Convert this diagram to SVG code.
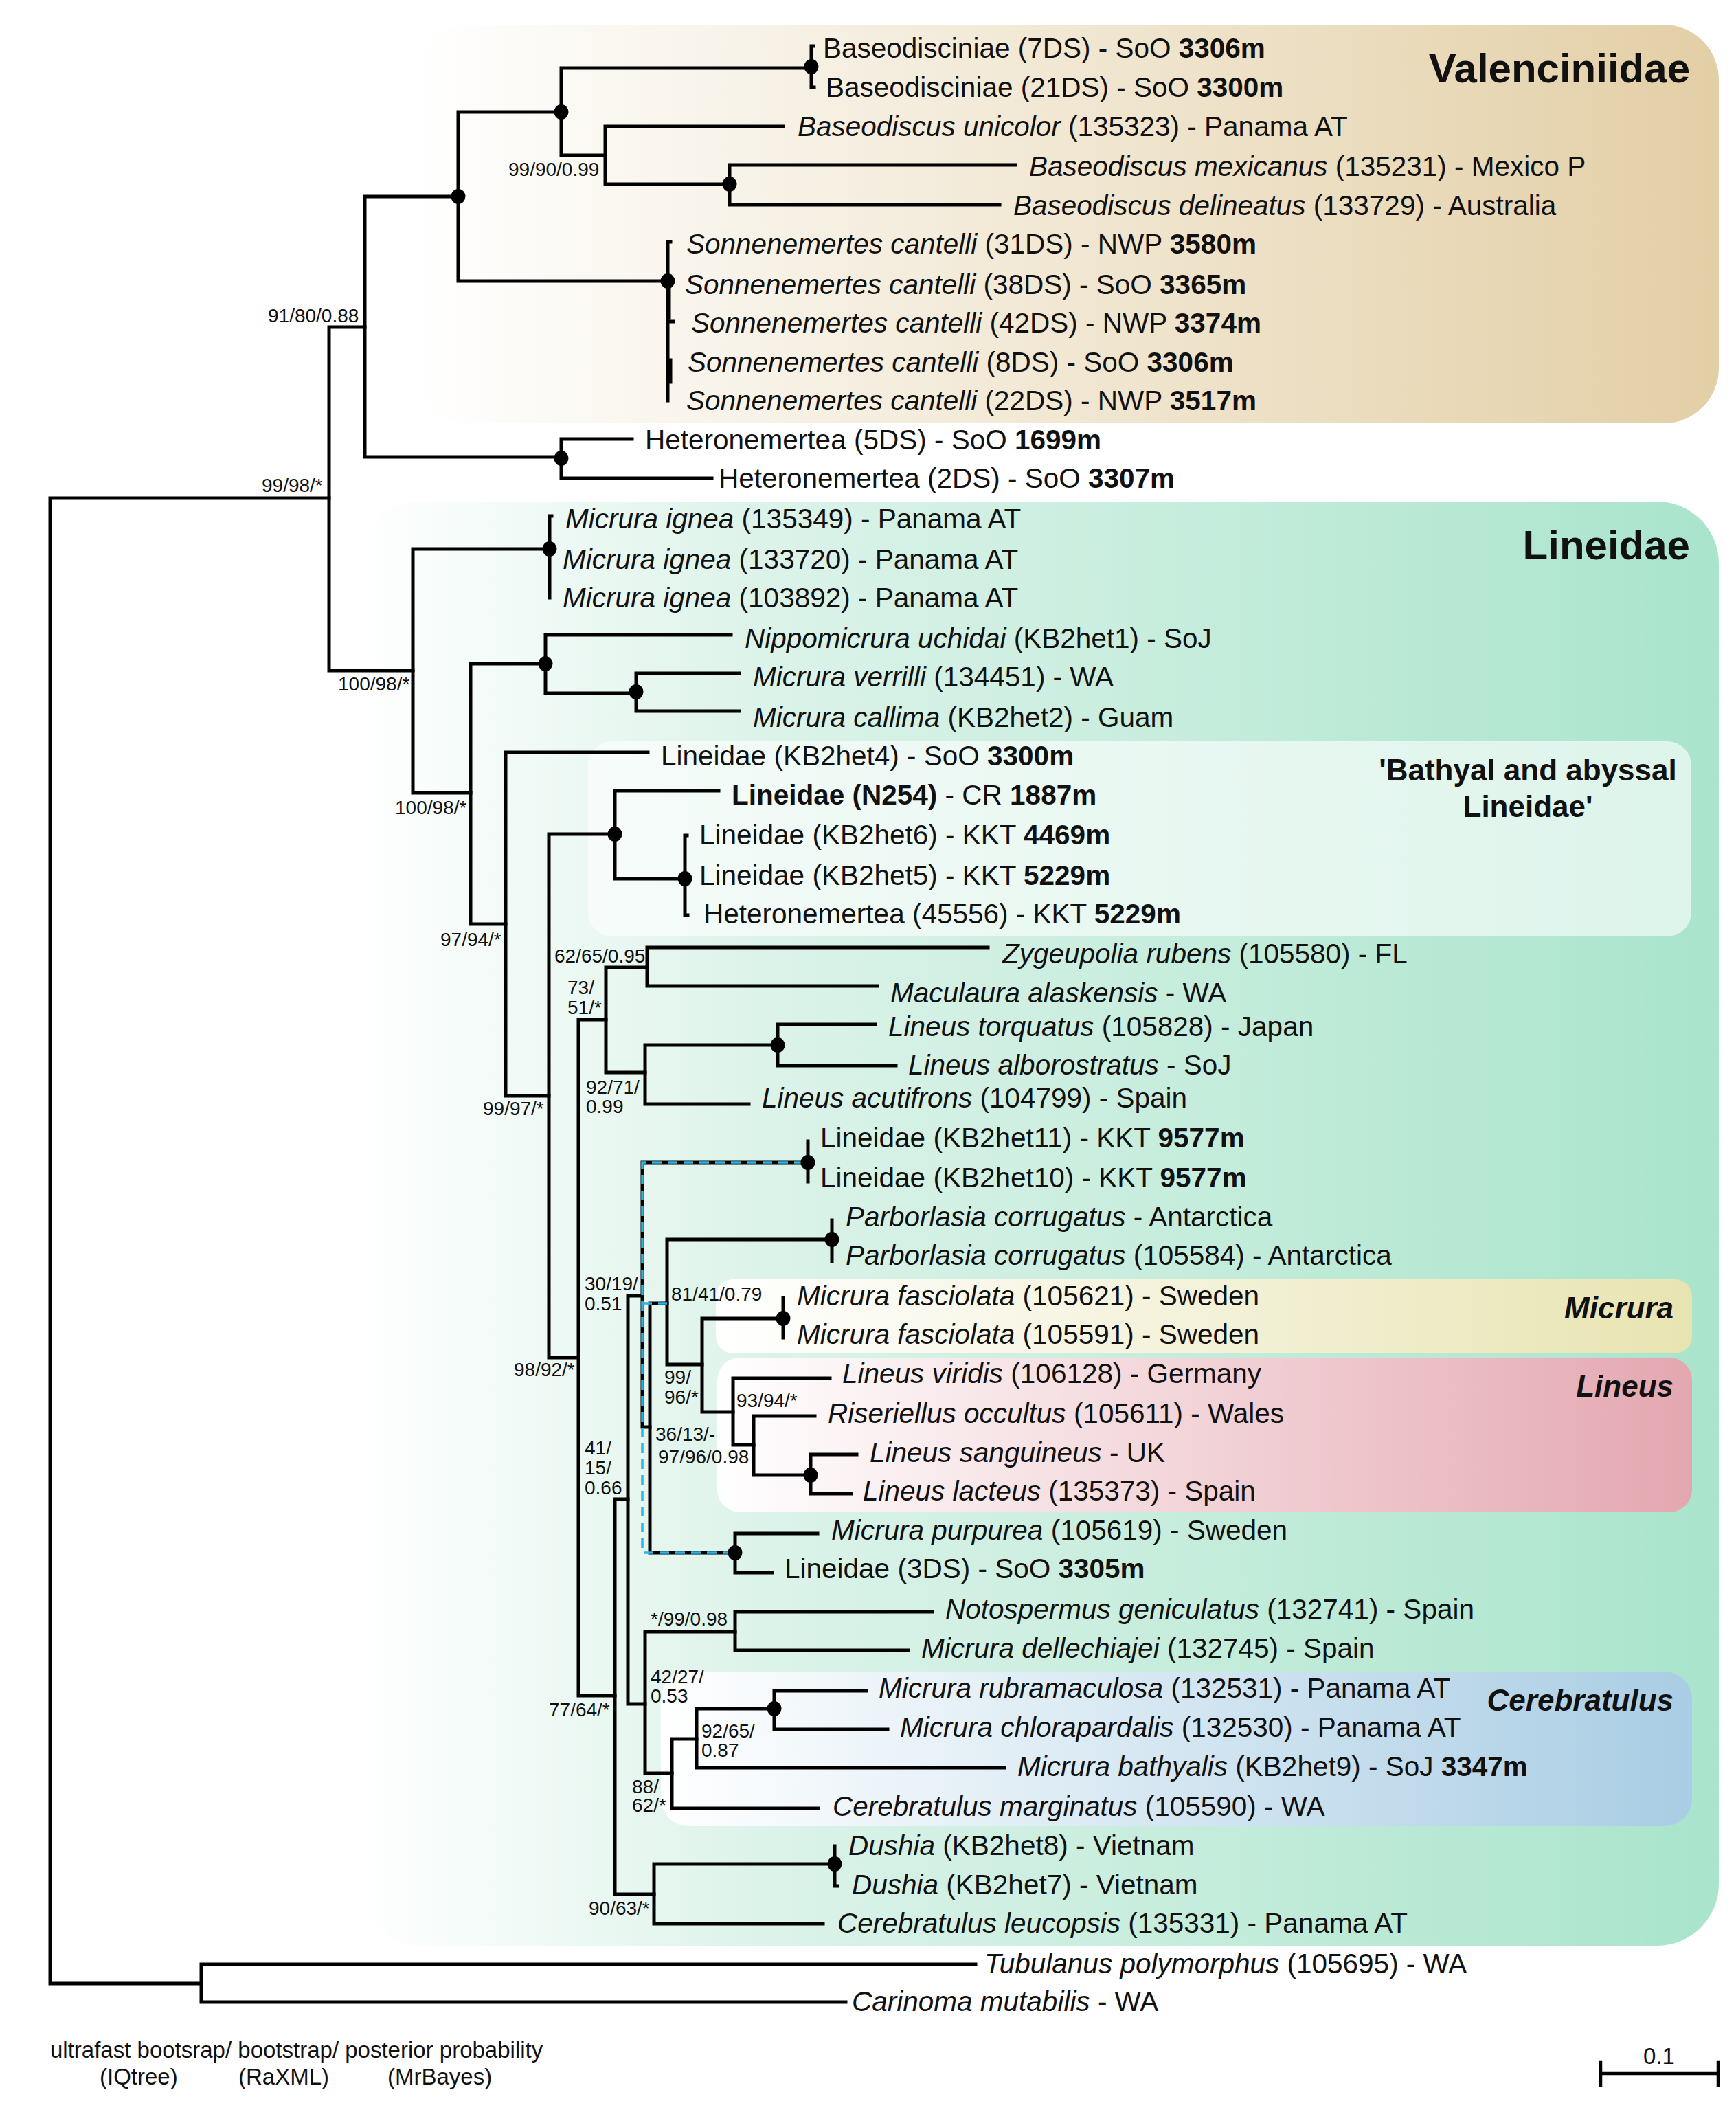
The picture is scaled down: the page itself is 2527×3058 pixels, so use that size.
<svg xmlns="http://www.w3.org/2000/svg" width="2527" height="3058" viewBox="0 0 2527 3058">
<defs>
<style>
.br{fill:none;stroke:#000;stroke-width:5;stroke-linecap:square}
.cy{fill:none;stroke:#2bb5e6;stroke-width:3.5;stroke-dasharray:14 9}
.dot{fill:#000}
text{font-family:"Liberation Sans",Arial,sans-serif;fill:#111}
.lf{font-size:40.5px}
.sp{font-size:28px}
.b{font-weight:bold}
.i{font-style:italic}
.ttl{font-size:60px;font-weight:bold;text-anchor:end}
.sub{font-size:44px;font-weight:bold;font-style:italic;text-anchor:end}
.ft{font-size:33px}
</style>
<linearGradient id="gV" x1="0" y1="0" x2="1" y2="0"><stop offset="0" stop-color="#ffffff"/><stop offset="1" stop-color="#e3cfa6"/></linearGradient>
<linearGradient id="gL" x1="0" y1="0" x2="1" y2="0"><stop offset="0" stop-color="#ffffff"/><stop offset="0.3" stop-color="#dcf3e9"/><stop offset="1" stop-color="#a9e4cc"/></linearGradient>
<linearGradient id="gM" x1="0" y1="0" x2="1" y2="0"><stop offset="0" stop-color="#ffffff"/><stop offset="1" stop-color="#e8e4b2"/></linearGradient>
<linearGradient id="gLi" x1="0" y1="0" x2="1" y2="0"><stop offset="0" stop-color="#ffffff"/><stop offset="1" stop-color="#e4a7b0"/></linearGradient>
<linearGradient id="gC" x1="0" y1="0" x2="1" y2="0"><stop offset="0" stop-color="#ffffff"/><stop offset="1" stop-color="#a9cde4"/></linearGradient>
</defs>
<rect width="2527" height="3058" fill="#ffffff"/>
<g id="backgrounds">
<rect id="box-valenciniidae" x="600" y="36" width="1902" height="580" rx="80" fill="url(#gV)"/>
<rect id="box-lineidae" x="520" y="730" width="1982" height="2102" rx="90" fill="url(#gL)"/>
<rect id="box-bathyal" x="856" y="1079" width="1606" height="284" rx="35" fill="#ffffff" fill-opacity="0.6"/>
<rect id="box-micrura" x="1042" y="1862" width="1421" height="108" rx="25" fill="url(#gM)"/>
<rect id="box-lineus" x="1044" y="1976" width="1419" height="225" rx="33" fill="url(#gLi)"/>
<rect id="box-cerebratulus" x="962" y="2433" width="1501" height="225" rx="40" fill="url(#gC)"/>
<text class="ttl" x="2460" y="120">Valenciniidae</text>
<text class="ttl" x="2460" y="814">Lineidae</text>
<text class="b" font-size="44" text-anchor="middle" x="2224" y="1136">'Bathyal and abyssal</text>
<text class="b" font-size="44" text-anchor="middle" x="2224" y="1189">Lineidae'</text>
<text class="sub" x="2436" y="1919">Micrura</text>
<text class="sub" x="2436" y="2033">Lineus</text>
<text class="sub" x="2436" y="2490">Cerebratulus</text>
</g>
<g id="connectors">
<path class="br" d="M73,725 V2887 M73,725 H479 M73,2887 H293"/>
<path class="br" d="M293,2859 V2914 M293,2859 H1420 M293,2914 H1231"/>
<path class="br" d="M479,476 V976 M479,476 H531 M479,976 H601"/>
<path class="br" d="M531,286 V665 M531,286 H667 M531,665 H817"/>
<path class="br" d="M667,163 V409 M667,163 H817 M667,409 H972"/>
<path class="br" d="M817,99 V226 M817,99 H1181 M817,226 H881"/>
<path class="br" d="M1181,67 V127 M1181,67 H1184 M1181,127 H1185"/>
<path class="br" d="M881,184 V268 M881,184 H1140 M881,268 H1062"/>
<path class="br" d="M1062,240 V298 M1062,240 H1478 M1062,298 H1455"/>
<path class="br" d="M972,352 V583 M972,352 H976 M972,468 H980 M976,524 V556"/>
<path class="br" style="stroke-width:7" d="M973,409 V462"/>
<path class="br" d="M817,639 V696 M817,639 H920 M817,696 H1036"/>
<path class="br" d="M601,799 V1154 M601,799 H800 M601,1154 H685"/>
<path class="br" d="M800,751 V870 M800,751 H803"/>
<path class="br" d="M685,966 V1345 M685,966 H794 M685,1345 H736"/>
<path class="br" d="M794,924 V1009 M794,924 H1064 M794,1009 H926"/>
<path class="br" d="M926,980 V1035 M926,980 H1076 M926,1035 H1076"/>
<path class="br" d="M736,1095 V1595 M736,1095 H943 M736,1595 H799"/>
<path class="br" d="M799,1214 V1976 M799,1214 H895 M799,1976 H842"/>
<path class="br" d="M895,1151 V1279 M895,1151 H1046 M895,1279 H997"/>
<path class="br" d="M997,1216 V1332 M997,1216 H1000 M997,1332 H1001"/>
<path class="br" d="M842,1484 V2468 M842,1484 H882 M842,2468 H895"/>
<path class="br" d="M882,1408 V1561 M882,1408 H942 M882,1561 H939"/>
<path class="br" d="M942,1379 V1435 M942,1379 H1438 M942,1435 H1277"/>
<path class="br" d="M939,1521 V1607 M939,1521 H1132 M939,1607 H1090"/>
<path class="br" d="M1132,1491 V1551 M1132,1491 H1274 M1132,1551 H1304"/>
<path class="br" d="M895,2182 V2757 M895,2182 H914 M895,2757 H952"/>
<path class="br" d="M914,1886 V2480 M914,1886 H935 M914,2480 H939"/>
<path class="br" d="M935,1692 V2077 M935,1692 H1176 M935,2077 H946"/>
<path class="br" d="M1176,1661 V1720"/>
<path class="br" d="M946,1897 V2260 M946,1897 H971 M946,2260 H1070"/>
<path class="br" d="M971,1804 V1986 M971,1804 H1211 M971,1986 H1022"/>
<path class="br" d="M1211,1776 V1836"/>
<path class="br" d="M1022,1919 V2055 M1022,1919 H1140 M1022,2055 H1067"/>
<path class="br" d="M1140,1889 V1947"/>
<path class="br" d="M1067,2006 V2103 M1067,2006 H1208 M1067,2103 H1097"/>
<path class="br" d="M1097,2061 V2147 M1097,2061 H1186 M1097,2147 H1180"/>
<path class="br" d="M1180,2117 V2174 M1180,2117 H1247 M1180,2174 H1239"/>
<path class="br" d="M1070,2232 V2289 M1070,2232 H1190 M1070,2289 H1124"/>
<path class="br" d="M939,2375 V2581 M939,2375 H1070 M939,2581 H978"/>
<path class="br" d="M1070,2346 V2402 M1070,2346 H1357 M1070,2402 H1322"/>
<path class="br" d="M978,2531 V2632 M978,2531 H1014 M978,2632 H1191"/>
<path class="br" d="M1014,2487 V2573 M1014,2487 H1127 M1014,2573 H1462"/>
<path class="br" d="M1127,2461 V2517 M1127,2461 H1261 M1127,2517 H1292"/>
<path class="br" d="M952,2713 V2800 M952,2713 H1215 M952,2800 H1198"/>
<path class="br" d="M1215,2687 V2745 M1215,2745 H1219"/>
<path class="cy" d="M1170,1692 H935 V2260 H1064"/>
<path class="cy" d="M935,1897 H971"/>
<path class="br" style="stroke-width:4.5" d="M2330,3018 H2501 M2330,3002 V3035 M2501,3002 V3035"/>
</g>
<g id="internal-nodes">
<g id="n1"><text class="sp" x="381" y="716">99/98/*</text></g>
<g id="n2"><text class="sp" x="390" y="469">91/80/0.88</text></g>
<g id="n3"><ellipse class="dot" cx="667" cy="286" rx="10.5" ry="11"/></g>
<g id="n4"><ellipse class="dot" cx="817" cy="163" rx="10.5" ry="11"/></g>
<g id="n5"><ellipse class="dot" cx="1181" cy="97" rx="10.5" ry="11"/></g>
<g id="n6"><text class="sp" x="740" y="256">99/90/0.99</text></g>
<g id="n7"><ellipse class="dot" cx="1062" cy="268" rx="10.5" ry="11"/></g>
<g id="n8"><ellipse class="dot" cx="972" cy="409" rx="10.5" ry="11"/></g>
<g id="n9"><ellipse class="dot" cx="817" cy="667" rx="10.5" ry="11"/></g>
<g id="n10"><text class="sp" x="492" y="1005">100/98/*</text></g>
<g id="n11"><ellipse class="dot" cx="800" cy="799" rx="10.5" ry="11"/></g>
<g id="n12"><text class="sp" x="575" y="1185">100/98/*</text></g>
<g id="n13"><ellipse class="dot" cx="794" cy="966" rx="10.5" ry="11"/></g>
<g id="n14"><ellipse class="dot" cx="926" cy="1007" rx="10.5" ry="11"/></g>
<g id="n15"><text class="sp" x="641" y="1377">97/94/*</text></g>
<g id="n16"><text class="sp" x="703" y="1623">99/97/*</text></g>
<g id="n17"><ellipse class="dot" cx="895" cy="1214" rx="10.5" ry="11"/></g>
<g id="n18"><ellipse class="dot" cx="997" cy="1279" rx="10.5" ry="11"/></g>
<g id="n19"><text class="sp" x="748" y="2003">98/92/*</text></g>
<g id="n20"><text class="sp" x="826" y="1447">73/</text><text class="sp" x="826" y="1476">51/*</text></g>
<g id="n21"><text class="sp" x="807" y="1401">62/65/0.95</text></g>
<g id="n22"><text class="sp" x="853" y="1592">92/71/</text><text class="sp" x="853" y="1620">0.99</text></g>
<g id="n23"><ellipse class="dot" cx="1132" cy="1521" rx="10.5" ry="11"/></g>
<g id="n24"><text class="sp" x="799" y="2498">77/64/*</text></g>
<g id="n25"><text class="sp" x="851" y="2117">41/</text><text class="sp" x="851" y="2146">15/</text><text class="sp" x="851" y="2175">0.66</text></g>
<g id="n26"><text class="sp" x="851" y="1878">30/19/</text><text class="sp" x="851" y="1907">0.51</text></g>
<g id="n27"><ellipse class="dot" cx="1176" cy="1692" rx="10.5" ry="11"/></g>
<g id="n28"><text class="sp" x="954" y="2097">36/13/-</text></g>
<g id="n29"><text class="sp" x="977" y="1893">81/41/0.79</text></g>
<g id="n30"><ellipse class="dot" cx="1211" cy="1804" rx="10.5" ry="11"/></g>
<g id="n31"><text class="sp" x="967" y="2014">99/</text><text class="sp" x="967" y="2043">96/*</text></g>
<g id="n32"><ellipse class="dot" cx="1140" cy="1919" rx="10.5" ry="11"/></g>
<g id="n33"><text class="sp" x="1072" y="2048">93/94/*</text></g>
<g id="n34"><text class="sp" x="958" y="2130">97/96/0.98</text></g>
<g id="n35"><ellipse class="dot" cx="1180" cy="2147" rx="10.5" ry="11"/></g>
<g id="n36"><ellipse class="dot" cx="1070" cy="2260" rx="10.5" ry="11"/></g>
<g id="n37"><text class="sp" x="947" y="2450">42/27/</text><text class="sp" x="947" y="2478">0.53</text></g>
<g id="n38"><text class="sp" x="947" y="2366">*/99/0.98</text></g>
<g id="n39"><text class="sp" x="920" y="2610">88/</text><text class="sp" x="920" y="2637">62/*</text></g>
<g id="n40"><text class="sp" x="1021" y="2529">92/65/</text><text class="sp" x="1021" y="2557">0.87</text></g>
<g id="n41"><ellipse class="dot" cx="1127" cy="2487" rx="10.5" ry="11"/></g>
<g id="n42"><text class="sp" x="857" y="2787">90/63/*</text></g>
<g id="n43"><ellipse class="dot" cx="1215" cy="2713" rx="10.5" ry="11"/></g>
</g>
<g id="leaves">
<g id="l1"><text class="lf" x="1198" y="84">Baseodisciniae (7DS) - SoO <tspan class="b">3306m</tspan></text></g>
<g id="l2"><text class="lf" x="1202" y="141">Baseodisciniae (21DS) - SoO <tspan class="b">3300m</tspan></text></g>
<g id="l3"><text class="lf" x="1161" y="198"><tspan class="i">Baseodiscus unicolor</tspan> (135323) - Panama AT</text></g>
<g id="l4"><text class="lf" x="1498" y="256"><tspan class="i">Baseodiscus mexicanus</tspan> (135231) - Mexico P</text></g>
<g id="l5"><text class="lf" x="1475" y="313"><tspan class="i">Baseodiscus delineatus</tspan> (133729) - Australia</text></g>
<g id="l6"><text class="lf" x="999" y="369"><tspan class="i">Sonnenemertes cantelli</tspan> (31DS) - NWP <tspan class="b">3580m</tspan></text></g>
<g id="l7"><text class="lf" x="997" y="428"><tspan class="i">Sonnenemertes cantelli</tspan> (38DS) - SoO <tspan class="b">3365m</tspan></text></g>
<g id="l8"><text class="lf" x="1006" y="484"><tspan class="i">Sonnenemertes cantelli</tspan> (42DS) - NWP <tspan class="b">3374m</tspan></text></g>
<g id="l9"><text class="lf" x="1001" y="541"><tspan class="i">Sonnenemertes cantelli</tspan> (8DS) - SoO <tspan class="b">3306m</tspan></text></g>
<g id="l10"><text class="lf" x="999" y="597"><tspan class="i">Sonnenemertes cantelli</tspan> (22DS) - NWP <tspan class="b">3517m</tspan></text></g>
<g id="l11"><text class="lf" x="939" y="654">Heteronemertea (5DS) - SoO <tspan class="b">1699m</tspan></text></g>
<g id="l12"><text class="lf" x="1046" y="710">Heteronemertea (2DS) - SoO <tspan class="b">3307m</tspan></text></g>
<g id="l13"><text class="lf" x="823" y="769"><tspan class="i">Micrura ignea</tspan> (135349) - Panama AT</text></g>
<g id="l14"><text class="lf" x="819" y="828"><tspan class="i">Micrura ignea</tspan> (133720) - Panama AT</text></g>
<g id="l15"><text class="lf" x="819" y="884"><tspan class="i">Micrura ignea</tspan> (103892) - Panama AT</text></g>
<g id="l16"><text class="lf" x="1084" y="943"><tspan class="i">Nippomicrura uchidai</tspan> (KB2het1) - SoJ</text></g>
<g id="l17"><text class="lf" x="1096" y="999"><tspan class="i">Micrura verrilli</tspan> (134451) - WA</text></g>
<g id="l18"><text class="lf" x="1096" y="1058"><tspan class="i">Micrura callima</tspan> (KB2het2) - Guam</text></g>
<g id="l19"><text class="lf" x="962" y="1114">Lineidae (KB2het4) - SoO <tspan class="b">3300m</tspan></text></g>
<g id="l20"><text class="lf" x="1065" y="1171"><tspan class="b">Lineidae (N254)</tspan> - CR <tspan class="b">1887m</tspan></text></g>
<g id="l21"><text class="lf" x="1018" y="1229">Lineidae (KB2het6) - KKT <tspan class="b">4469m</tspan></text></g>
<g id="l22"><text class="lf" x="1018" y="1288">Lineidae (KB2het5) - KKT <tspan class="b">5229m</tspan></text></g>
<g id="l23"><text class="lf" x="1024" y="1344">Heteronemertea (45556) - KKT <tspan class="b">5229m</tspan></text></g>
<g id="l24"><text class="lf" x="1459" y="1402"><tspan class="i">Zygeupolia rubens</tspan> (105580) - FL</text></g>
<g id="l25"><text class="lf" x="1296" y="1459"><tspan class="i">Maculaura alaskensis</tspan> - WA</text></g>
<g id="l26"><text class="lf" x="1293" y="1508"><tspan class="i">Lineus torquatus</tspan> (105828) - Japan</text></g>
<g id="l27"><text class="lf" x="1322" y="1564"><tspan class="i">Lineus alborostratus</tspan> - SoJ</text></g>
<g id="l28"><text class="lf" x="1109" y="1612"><tspan class="i">Lineus acutifrons</tspan> (104799) - Spain</text></g>
<g id="l29"><text class="lf" x="1194" y="1670">Lineidae (KB2het11) - KKT <tspan class="b">9577m</tspan></text></g>
<g id="l30"><text class="lf" x="1194" y="1728">Lineidae (KB2het10) - KKT <tspan class="b">9577m</tspan></text></g>
<g id="l31"><text class="lf" x="1231" y="1785"><tspan class="i">Parborlasia corrugatus</tspan> - Antarctica</text></g>
<g id="l32"><text class="lf" x="1231" y="1841"><tspan class="i">Parborlasia corrugatus</tspan> (105584) - Antarctica</text></g>
<g id="l33"><text class="lf" x="1160" y="1900"><tspan class="i">Micrura fasciolata</tspan> (105621) - Sweden</text></g>
<g id="l34"><text class="lf" x="1160" y="1956"><tspan class="i">Micrura fasciolata</tspan> (105591) - Sweden</text></g>
<g id="l35"><text class="lf" x="1226" y="2013"><tspan class="i">Lineus viridis</tspan> (106128) - Germany</text></g>
<g id="l36"><text class="lf" x="1205" y="2071"><tspan class="i">Riseriellus occultus</tspan> (105611) - Wales</text></g>
<g id="l37"><text class="lf" x="1266" y="2128"><tspan class="i">Lineus sanguineus</tspan> - UK</text></g>
<g id="l38"><text class="lf" x="1256" y="2184"><tspan class="i">Lineus lacteus</tspan> (135373) - Spain</text></g>
<g id="l39"><text class="lf" x="1210" y="2241"><tspan class="i">Micrura purpurea</tspan> (105619) - Sweden</text></g>
<g id="l40"><text class="lf" x="1142" y="2297">Lineidae (3DS) - SoO <tspan class="b">3305m</tspan></text></g>
<g id="l41"><text class="lf" x="1376" y="2356"><tspan class="i">Notospermus geniculatus</tspan> (132741) - Spain</text></g>
<g id="l42"><text class="lf" x="1341" y="2413"><tspan class="i">Micrura dellechiajei</tspan> (132745) - Spain</text></g>
<g id="l43"><text class="lf" x="1279" y="2471"><tspan class="i">Micrura rubramaculosa</tspan> (132531) - Panama AT</text></g>
<g id="l44"><text class="lf" x="1310" y="2528"><tspan class="i">Micrura chlorapardalis</tspan> (132530) - Panama AT</text></g>
<g id="l45"><text class="lf" x="1481" y="2585"><tspan class="i">Micrura bathyalis</tspan> (KB2het9) - SoJ <tspan class="b">3347m</tspan></text></g>
<g id="l46"><text class="lf" x="1212" y="2643"><tspan class="i">Cerebratulus marginatus</tspan> (105590) - WA</text></g>
<g id="l47"><text class="lf" x="1235" y="2700"><tspan class="i">Dushia</tspan> (KB2het8) - Vietnam</text></g>
<g id="l48"><text class="lf" x="1240" y="2757"><tspan class="i">Dushia</tspan> (KB2het7) - Vietnam</text></g>
<g id="l49"><text class="lf" x="1219" y="2813"><tspan class="i">Cerebratulus leucopsis</tspan> (135331) - Panama AT</text></g>
<g id="l50"><text class="lf" x="1433" y="2872"><tspan class="i">Tubulanus polymorphus</tspan> (105695) - WA</text></g>
<g id="l51"><text class="lf" x="1240" y="2927"><tspan class="i">Carinoma mutabilis</tspan> - WA</text></g>
</g>
<g id="legend">
<text class="ft" x="73" y="2995">ultrafast bootsrap/ bootstrap/ posterior probability</text>
<text class="ft" x="145" y="3034">(IQtree)</text>
<text class="ft" x="347" y="3034">(RaXML)</text>
<text class="ft" x="564" y="3034">(MrBayes)</text>
<text class="ft" font-size="32" text-anchor="middle" x="2415" y="3004">0.1</text>
</g>
</svg>
